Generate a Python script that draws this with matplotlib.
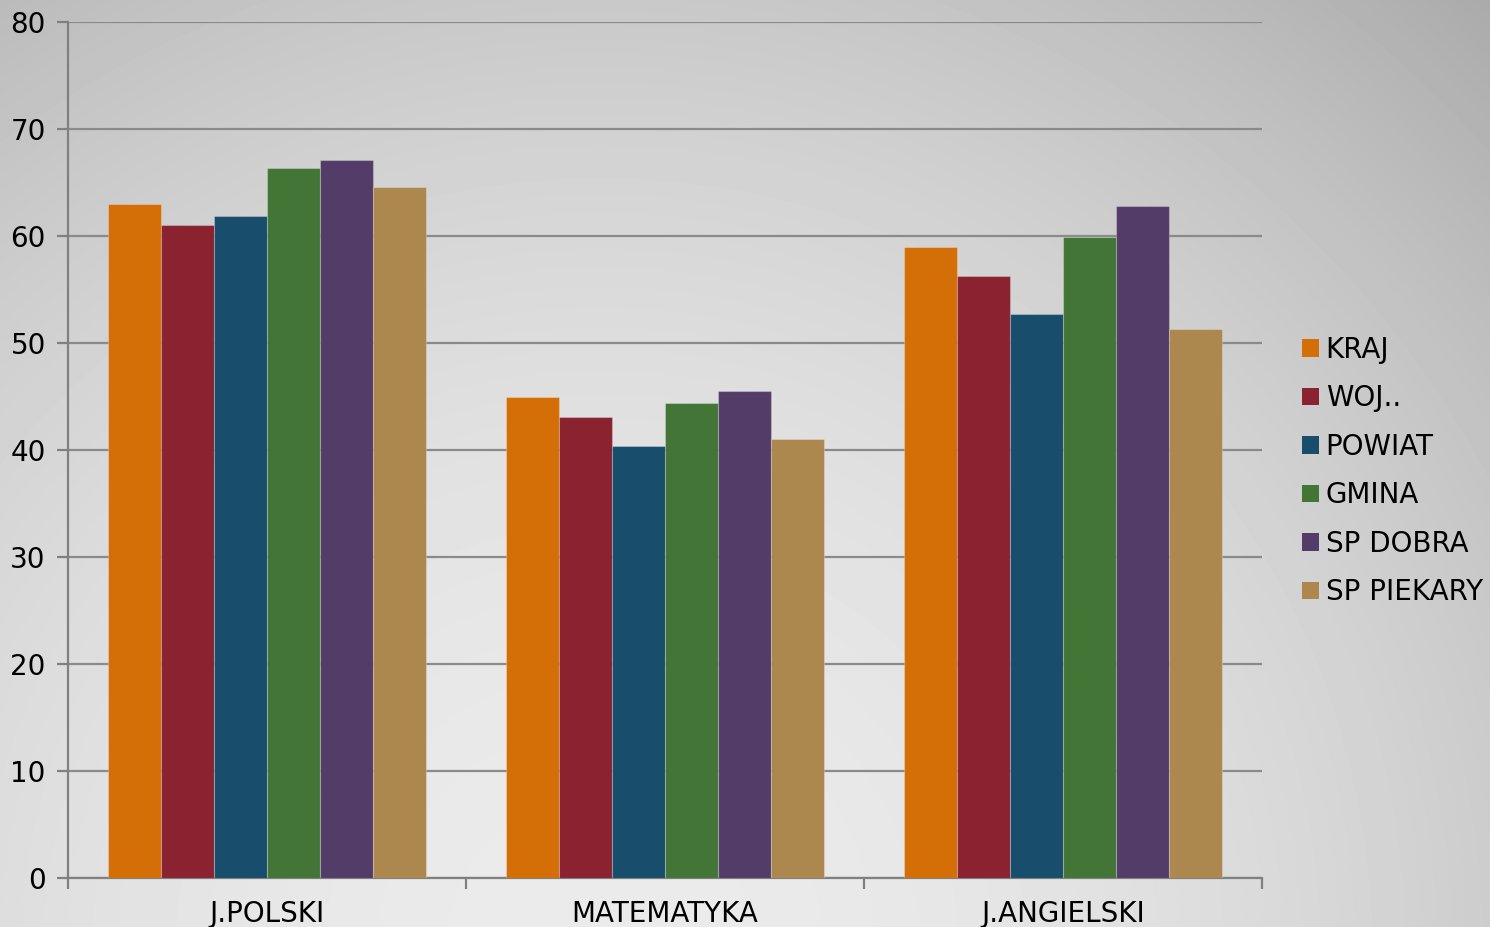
import matplotlib
matplotlib.use('Agg')
import matplotlib.pyplot as plt
import numpy as np
from matplotlib.patches import Patch

# data
subjects = ['J.POLSKI', 'MATEMATYKA', 'J.ANGIELSKI']
series = ['KRAJ', 'WOJ..', 'POWIAT', 'GMINA', 'SP DOBRA', 'SP PIEKARY']
kraj = [63.0, 45.0, 59.0]
woj = [61.0, 43.1, 56.3]
powiat = [61.9, 40.4, 52.7]
gmina = [66.4, 44.4, 59.9]
sp_dobra = [67.1, 45.5, 62.8]
sp_piekary = [64.6, 41.0, 51.3]
values = [kraj, woj, powiat, gmina, sp_dobra, sp_piekary]
colors = ['#D46E06', '#8B2230', '#184E6C', '#437537', '#533D68', '#AC884F']

matplotlib.rcParams.update({'font.size': 20, 'font.family': 'DejaVu Sans'})

fig = plt.figure(figsize=(14.9, 9.27), dpi=100)

# grey radial background
W, H = 1490, 927
yy, xx = np.mgrid[0:H, 0:W]
d2 = (xx - 600.0) ** 2 + (yy - 950.0) ** 2
bg = np.clip(235 - 3.83e-5 * d2, 0, 255) / 255.0
bgax = fig.add_axes([0, 0, 1, 1], zorder=-10)
bgax.imshow(bg, cmap='gray', vmin=0, vmax=1, aspect='auto', interpolation='bilinear')
bgax.axis('off')

ax = fig.add_axes([68 / W, 1 - 878 / H, (1262 - 68) / W, (878 - 22) / H])
ax.patch.set_alpha(0)

x = np.arange(len(subjects))
width = 0.8 / len(series)
for i, (name, vals, c) in enumerate(zip(series, values, colors)):
    ax.bar(x - 0.4 + width * (i + 0.5), vals, width, color=c, label=name,
           edgecolor=(1, 1, 1, 0.25), linewidth=0.8, zorder=3)

ax.set_xlim(-0.5, 2.5)
ax.set_ylim(0, 80)
ax.set_yticks(range(0, 81, 10))
ax.yaxis.grid(True, color='#8a8a8a', linewidth=1.6, zorder=0)
ax.set_axisbelow(True)

ax.set_xticks([-0.5, 0.5, 1.5, 2.5])
ax.set_xticklabels([])
ax.set_xticks(x, minor=True)
ax.set_xticklabels(subjects, minor=True)
ax.tick_params(axis='x', which='major', length=8, width=1.6, color='#808080', direction='out')
ax.tick_params(axis='x', which='minor', length=0, pad=16)
ax.tick_params(axis='y', length=8, width=1.6, color='#808080', direction='out', pad=8)

for s in ['top', 'right']:
    ax.spines[s].set_visible(False)
for s in ['left', 'bottom']:
    ax.spines[s].set_color('#808080')
    ax.spines[s].set_linewidth(1.6)

handles = [Patch(facecolor=c, edgecolor='none') for c in colors]
fig.legend(handles, series, loc='center left', bbox_to_anchor=(1302 / W, 1 - 471 / H),
           frameon=False, handlelength=0.6, handleheight=0.6, handletextpad=0.25,
           labelspacing=0.74, borderaxespad=0, borderpad=0, fontsize=20)

plt.savefig('out.png', dpi=100)
